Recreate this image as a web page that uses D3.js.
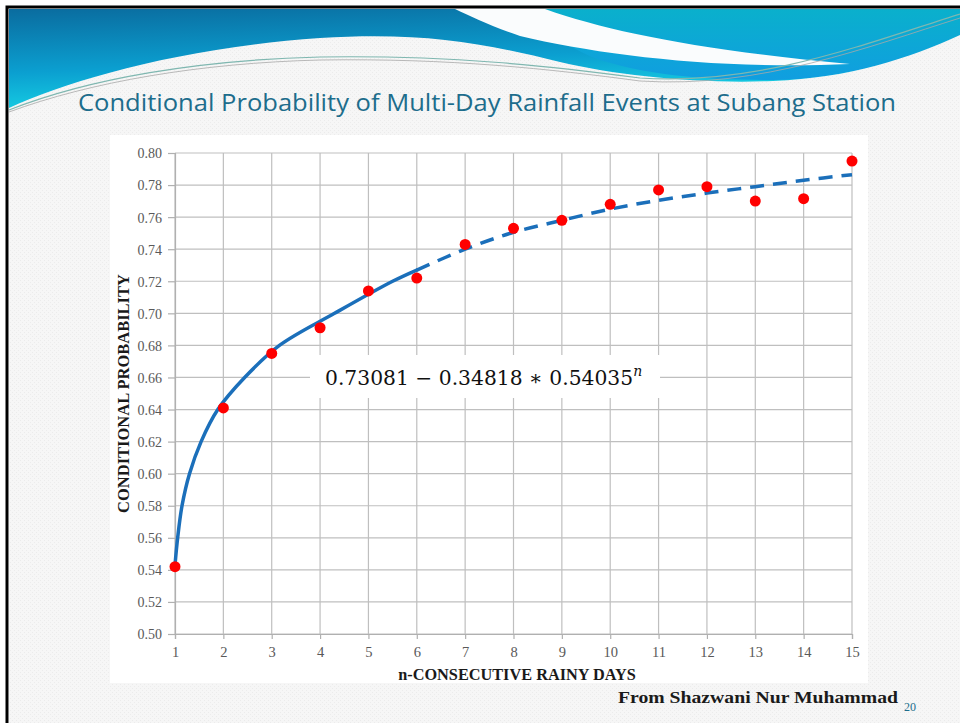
<!DOCTYPE html>
<html>
<head>
<meta charset="utf-8">
<script src="https://cdn.jsdelivr.net/npm/d3@7"></script>
<style>
  body { margin: 0; background: #fff; }
  svg { display: block; }
</style>
</head>
<body>
<svg id="slide" width="960" height="723"></svg>
<script>
const days = [1, 2, 3, 4, 5, 6, 7, 8, 9, 10, 11, 12, 13, 14, 15];
const probability = [0.542, 0.641, 0.675, 0.691, 0.714, 0.722, 0.743, 0.753, 0.758, 0.768, 0.777, 0.779, 0.770, 0.7715, 0.795];

// fitted curve: solid part up to n = 6, dashed after
const fitSolidN = [1, 1.055, 1.145, 1.3, 1.54, 1.885, 2.44, 3.16, 4.3, 5.5, 6];
const fitSolidP = [0.543, 0.56, 0.58, 0.60, 0.62, 0.64, 0.66, 0.68, 0.70, 0.72, 0.727];
const fitDashN = [6, 7, 8, 9, 10, 11, 12, 13, 14, 15];
const fitDashP = [0.727, 0.740, 0.7505, 0.758, 0.765, 0.7705, 0.775, 0.779, 0.783, 0.7865];

const yTicks = [0.50, 0.52, 0.54, 0.56, 0.58, 0.60, 0.62, 0.64, 0.66, 0.68, 0.70, 0.72, 0.74, 0.76, 0.78, 0.80];

const svg = d3.select('#slide');
const defs = svg.append('defs');

// slide background
const pat = defs.append('pattern').attr('id', 'dots')
    .attr('width', 4).attr('height', 4).attr('patternUnits', 'userSpaceOnUse');
pat.append('rect').attr('width', 4).attr('height', 4).attr('fill', '#f6f6f6');
pat.append('rect').attr('width', 1).attr('height', 1).attr('fill', '#ebebeb');
pat.append('rect').attr('x', 2).attr('y', 2).attr('width', 1).attr('height', 1).attr('fill', '#ececec');

svg.append('rect').attr('width', 960).attr('height', 723).attr('fill', '#fff');
svg.append('rect').attr('x', 9).attr('y', 9).attr('width', 951).attr('height', 714).attr('fill', 'url(#dots)');

// banner
const grad = defs.append('linearGradient').attr('id', 'bannerGrad')
    .attr('x1', '0%').attr('y1', '0%').attr('x2', '30%').attr('y2', '100%');
grad.append('stop').attr('offset', '0%').attr('stop-color', '#0a6c9f');
grad.append('stop').attr('offset', '55%').attr('stop-color', '#0b9fd0');
grad.append('stop').attr('offset', '100%').attr('stop-color', '#19dbe8');

const grad2 = defs.append('linearGradient').attr('id', 'rightGrad')
    .attr('x1', '0%').attr('y1', '0%').attr('x2', '0%').attr('y2', '100%');
grad2.append('stop').attr('offset', '0%').attr('stop-color', '#0ab0cc');
grad2.append('stop').attr('offset', '100%').attr('stop-color', '#109ee0');

const banner = svg.append('g');
banner.append('path')
    .attr('d', 'M9,9 L960,9 L960,115 L9,115 Z')
    .attr('fill', 'url(#bannerGrad)');
banner.append('path')
    .attr('d', 'M520,9 L960,9 L960,40 C900,60 840,80 773,80 C700,80 650,75 600,60 C560,45 540,25 520,9 Z')
    .attr('fill', 'url(#rightGrad)');
// white streak
banner.append('path')
    .attr('d', 'M455,9 L545,9 C610,32 700,50 850,64 C720,70 600,55 520,36 C490,26 470,16 455,9 Z')
    .attr('fill', '#fafcfd');
// lower white wave
banner.append('path')
    .attr('d', 'M9,108 C70,80 180,48 320,38 C420,32 480,42 560,62 C620,76 700,84 773,81 C850,78 910,58 960,35 L960,116 L9,116 Z')
    .attr('fill', 'url(#dots)');
banner.append('path')
    .attr('d', 'M9,110 C90,78 200,60 320,57 C450,55 550,66 640,78 C760,86 870,42 960,14')
    .attr('fill', 'none').attr('stroke', '#7fb7b0').attr('stroke-width', 1.2);
banner.append('path')
    .attr('d', 'M9,112 C90,82 200,63 320,60 C450,58 550,69 640,81 C760,89 870,46 960,18')
    .attr('fill', 'none').attr('stroke', '#a8a8a8').attr('stroke-width', 0.8);

// frame
svg.append('rect').attr('x', 7).attr('y', 7).attr('width', 960).attr('height', 730)
    .attr('fill', 'none').attr('stroke', '#000').attr('stroke-width', 3);

// title
svg.append('text')
    .attr('x', 487).attr('y', 111)
    .attr('text-anchor', 'middle')
    .attr('font-family', 'Open Sans, sans-serif')
    .attr('font-size', 23)
    .attr('fill', '#1d6d8c')
    .attr('textLength', 818).attr('lengthAdjust', 'spacingAndGlyphs')
    .text('Conditional Probability of Multi-Day Rainfall Events at Subang Station');

// chart panel
svg.append('rect').attr('x', 110).attr('y', 135).attr('width', 758).attr('height', 548).attr('fill', '#fff');

const margin = {left: 175, right: 852, top: 153, bottom: 634};
const xScale = d3.scaleLinear().domain([1, 15]).range([margin.left, margin.right]);
const yScale = d3.scaleLinear().domain([0.50, 0.80]).range([margin.bottom, margin.top]);

const g = svg.append('g');

// grid
g.selectAll('.hgrid').data(yTicks).enter().append('line')
    .attr('class', 'hgrid')
    .attr('x1', margin.left).attr('x2', margin.right)
    .attr('y1', d => yScale(d)).attr('y2', d => yScale(d))
    .attr('stroke', '#bfbfbf').attr('stroke-width', 1.2);
g.selectAll('.vgrid').data(days).enter().append('line')
    .attr('class', 'vgrid')
    .attr('x1', d => xScale(d)).attr('x2', d => xScale(d))
    .attr('y1', margin.top).attr('y2', margin.bottom)
    .attr('stroke', '#bfbfbf').attr('stroke-width', 1.2);

// axes
const yAxis = d3.axisLeft(yScale).tickValues(yTicks).tickFormat(d3.format('.2f')).tickSize(7).tickPadding(6);
const xAxis = d3.axisBottom(xScale).tickValues(days).tickFormat(d3.format('d')).tickSize(5).tickPadding(8);

const yAxisGroup = g.append('g').attr('transform', `translate(${margin.left},0)`).call(yAxis);
const xAxisGroup = g.append('g').attr('transform', `translate(0,${margin.bottom})`).call(xAxis);

[yAxisGroup, xAxisGroup].forEach(ax => {
    ax.attr('font-family', 'Liberation Serif, serif').attr('font-size', 14);
    ax.select('.domain').attr('stroke', '#b0b0b0').attr('stroke-width', 1.2);
    ax.selectAll('.tick line').attr('stroke', '#b0b0b0').attr('stroke-width', 1.2);
    ax.selectAll('.tick text').attr('fill', '#595959');
});
yAxisGroup.selectAll('.tick text').attr('dy', '0.35em');
xAxisGroup.selectAll('.tick text').attr('font-size', 14.5);

// axis titles
g.append('text')
    .attr('transform', `translate(129, ${(margin.top + margin.bottom) / 2 + 0}) rotate(-90)`)
    .attr('text-anchor', 'middle')
    .attr('font-family', 'Liberation Serif, serif')
    .attr('font-weight', 'bold')
    .attr('font-size', 16.5)
    .attr('fill', '#1a1a1a')
    .text('CONDITIONAL PROBABILITY');

g.append('text')
    .attr('x', 517).attr('y', 680)
    .attr('text-anchor', 'middle')
    .attr('font-family', 'Liberation Serif, serif')
    .attr('font-weight', 'bold')
    .attr('font-size', 16.3)
    .attr('fill', '#1a1a1a')
    .text('n-CONSECUTIVE RAINY DAYS');

// fitted curve
const line = d3.line()
    .x(d => xScale(d[0]))
    .y(d => yScale(d[1]))
    .curve(d3.curveCatmullRom.alpha(0.5));

g.append('path')
    .datum(d3.zip(fitSolidN, fitSolidP))
    .attr('d', line)
    .attr('fill', 'none')
    .attr('stroke', '#1b6fba')
    .attr('stroke-width', 3.5)
    .attr('stroke-linecap', 'round');

g.append('path')
    .datum(d3.zip(fitDashN, fitDashP))
    .attr('d', line)
    .attr('fill', 'none')
    .attr('stroke', '#1b6fba')
    .attr('stroke-width', 3.5)
    .attr('stroke-dasharray', '14,9');

// observed points
g.selectAll('.pt').data(d3.zip(days, probability)).enter().append('circle')
    .attr('class', 'pt')
    .attr('cx', d => xScale(d[0]))
    .attr('cy', d => yScale(d[1]))
    .attr('r', 5.5)
    .attr('fill', '#ff0000');

// equation box
g.append('rect').attr('x', 310).attr('y', 355).attr('width', 350).attr('height', 43).attr('fill', '#fff');
const eq = g.append('text')
    .attr('x', 325).attr('y', 385)
    .attr('font-family', 'DejaVu Serif, serif')
    .attr('font-size', 20.3)
    .attr('fill', '#111');
eq.append('tspan').text('0.73081 − 0.34818 ∗ 0.54035');
eq.append('tspan').attr('font-style', 'italic').attr('font-size', 14).attr('dy', -9).text('n');

// footer
svg.append('text')
    .attr('x', 618).attr('y', 703)
    .attr('font-family', 'Liberation Serif, serif')
    .attr('font-weight', 'bold')
    .attr('font-size', 17)
    .attr('fill', '#1a1a1a')
    .attr('textLength', 280).attr('lengthAdjust', 'spacingAndGlyphs')
    .text('From Shazwani Nur Muhammad');
svg.append('text')
    .attr('x', 904).attr('y', 711)
    .attr('font-family', 'Liberation Serif, serif')
    .attr('font-size', 12)
    .attr('fill', '#1d6d8c')
    .text('20');
</script>
</body>
</html>
